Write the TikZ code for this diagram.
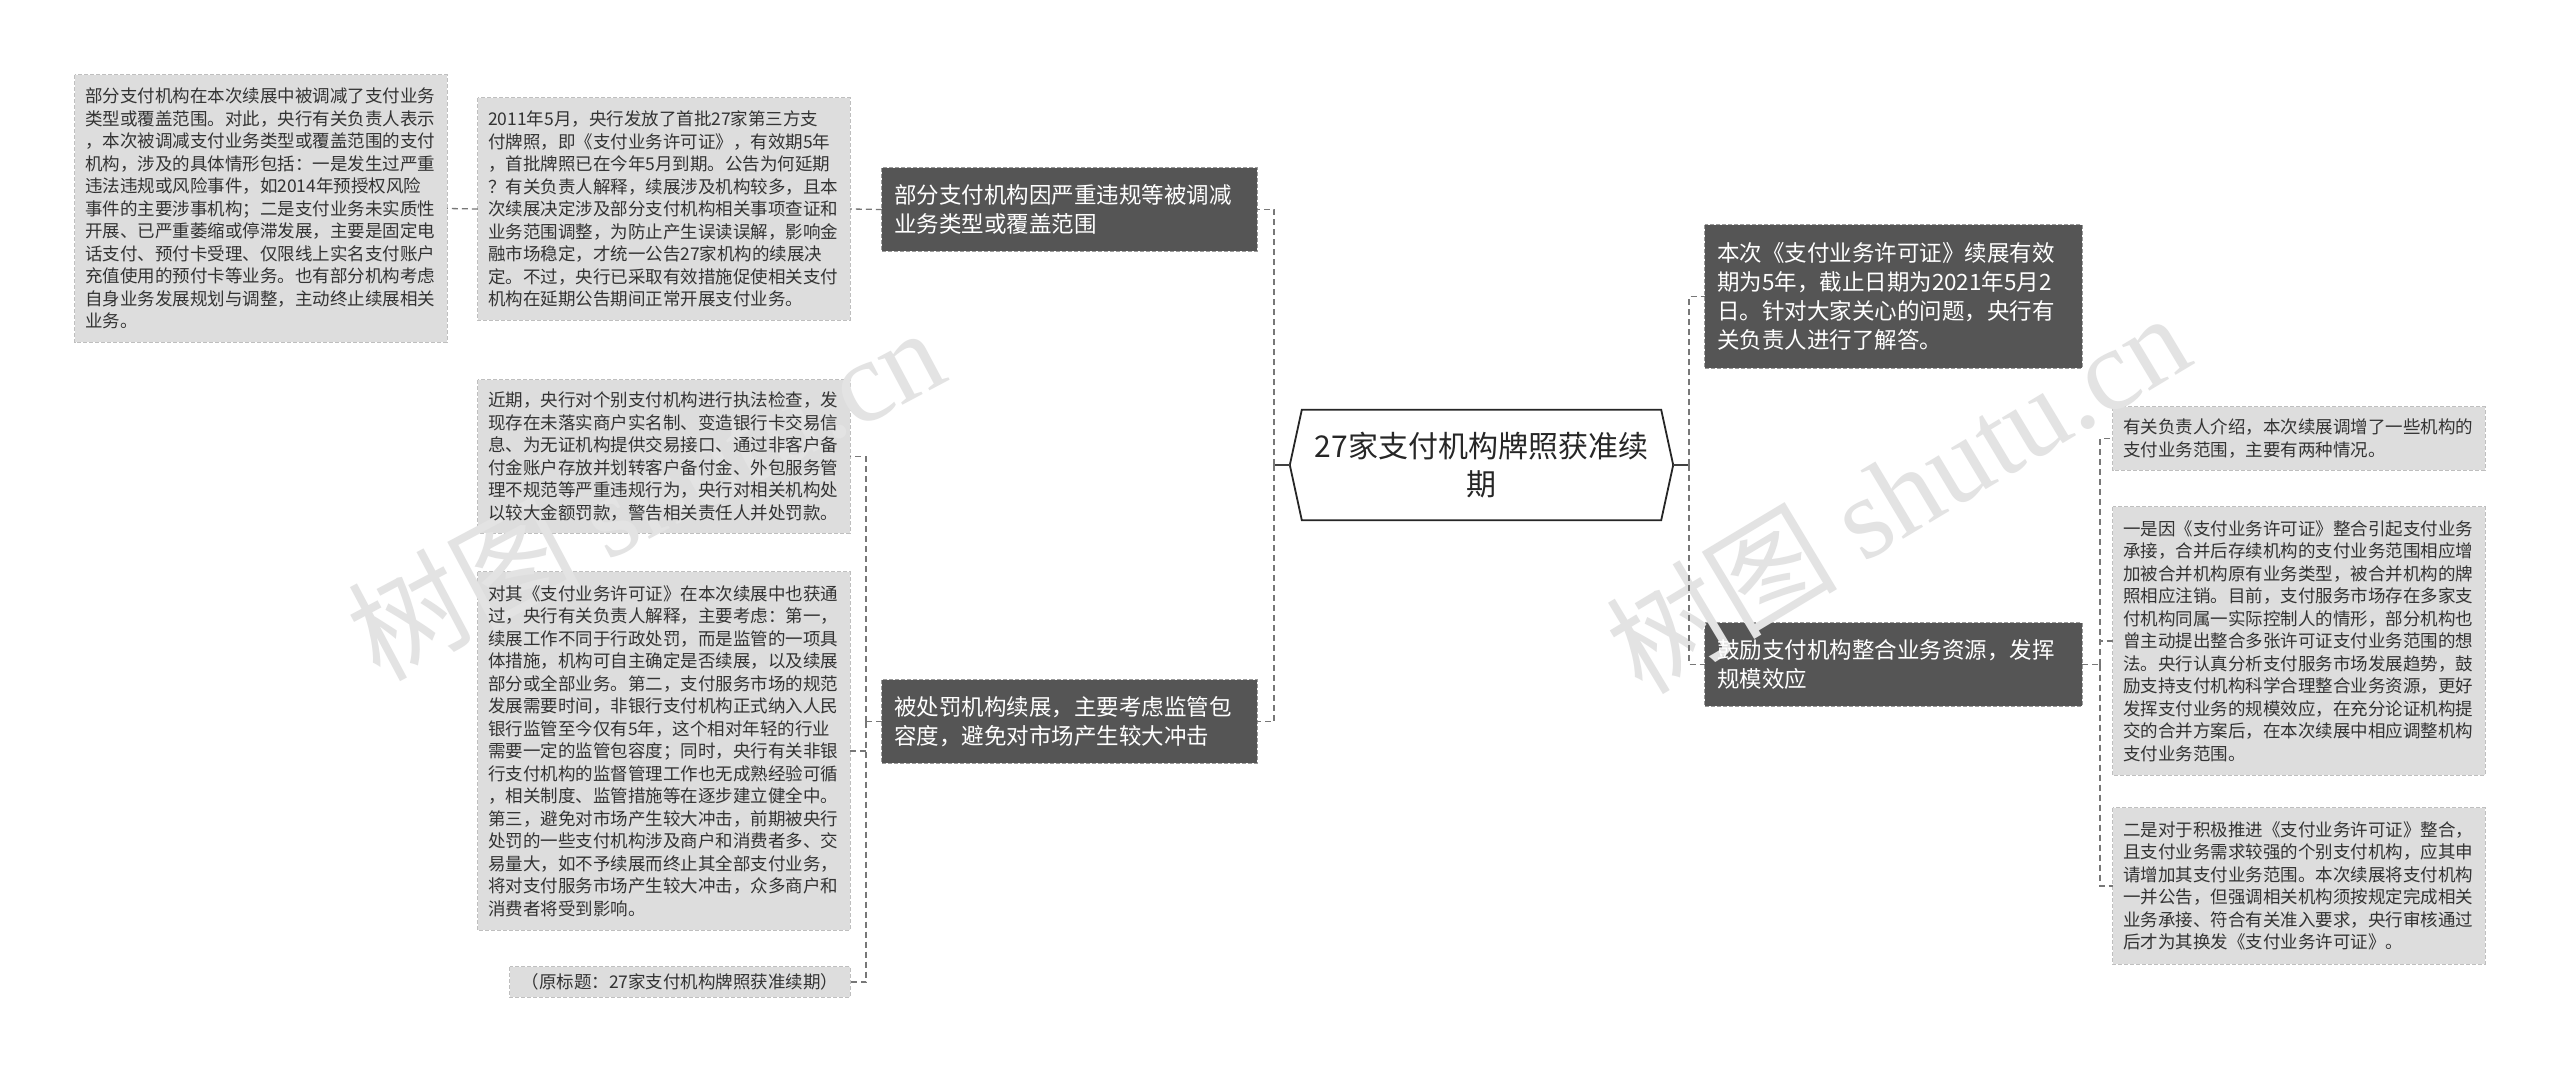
\documentclass[tikz,border=0pt]{standalone}
\usepackage{fontspec}
\setmainfont{Noto Sans CJK SC}
\newfontfamily\wmserif{Liberation Serif}
\definecolor{darkbox}{HTML}{555555}
\definecolor{lightbox}{HTML}{DDDDDD}
\definecolor{lighttext}{HTML}{333333}
\definecolor{linecol}{HTML}{777777}
\definecolor{wmcol}{HTML}{E3E3E3}
\pgfdeclarelayer{boxes}
\pgfdeclarelayer{wmlayer}
\pgfsetlayers{boxes,wmlayer,main}
\tikzset{
 lightnode/.style={text=lighttext, align=left, inner xsep=10pt, inner ysep=0pt, font=\fontsize{17.5}{22.5}\selectfont},
 darknode/.style={text=white, align=left, inner xsep=12pt, inner ysep=0pt, font=\fontsize{22.5}{29}\selectfont},
 lightfill/.style={fill=lightbox, draw=black!25, dash pattern=on 4pt off 2pt, line width=1pt},
 darkfill/.style={fill=darkbox, draw=black!40, dash pattern=on 4pt off 2pt, line width=1.2pt},
 conn/.style={draw=linecol, line width=1.3pt, dash pattern=on 6pt off 4pt},
 stub/.style={draw=black!75, line width=1.6pt},
 wmark/.style={text=wmcol, font=\fontsize{116}{116}\selectfont, inner sep=0pt},
}
\begin{document}
\begin{tikzpicture}[x=1pt, y=-1pt]
\begin{pgfonlayer}{boxes}
\fill[white] (0,0) rectangle (2560,1083);
\end{pgfonlayer}
\useasboundingbox (0,0) rectangle (2560,1083);

% watermarks
\begin{pgfonlayer}{wmlayer}
\node[wmark, rotate=28] (wm1) at (645,492) {树图 {\wmserif shutu.cn}};
\node[wmark, rotate=31] (wm2) at (1897,492) {树图 {\wmserif shutu.cn}};
\end{pgfonlayer}

% center
\node[font=\fontsize{30}{38}\selectfont, align=center, minimum width=383pt, minimum height=110pt, inner sep=0pt] (c) at (1481.5,465) {};
\draw[black!85, fill=white, line width=1.8pt] (c.west) -- ([xshift=12pt]c.north west) -- ([xshift=-12pt]c.north east) -- (c.east) -- ([xshift=-12pt]c.south east) -- ([xshift=12pt]c.south west) -- cycle;
\node[font=\fontsize{30}{38}\selectfont, align=center, text=black!85, inner sep=0pt] (ct) at (c.center) {27家支付机构牌照获准续\\期};

% left side
\node[darknode, minimum width=375pt, minimum height=83pt, text width=351pt] (b3) at (1069.5,209.5) {部分支付机构因严重违规等被调减\\业务类型或覆盖范围};
\node[darknode, minimum width=375pt, minimum height=83pt, text width=351pt] (b7) at (1069.5,721.5) {被处罚机构续展，主要考虑监管包\\容度，避免对市场产生较大冲击};

\node[lightnode, minimum width=372pt, minimum height=267pt, text width=352pt] (b1) at (261,208.5) {部分支付机构在本次续展中被调减了支付业务\\
类型或覆盖范围。对此，央行有关负责人表示\\
，本次被调减支付业务类型或覆盖范围的支付\\
机构，涉及的具体情形包括：一是发生过严重\\
违法违规或风险事件，如2014年预授权风险\\
事件的主要涉事机构；二是支付业务未实质性\\
开展、已严重萎缩或停滞发展，主要是固定电\\
话支付、预付卡受理、仅限线上实名支付账户\\
充值使用的预付卡等业务。也有部分机构考虑\\
自身业务发展规划与调整，主动终止续展相关\\
业务。};

\node[lightnode, minimum width=372pt, minimum height=222pt, text width=352pt] (b2) at (664,209) {2011年5月，央行发放了首批27家第三方支\\
付牌照，即《支付业务许可证》，有效期5年\\
，首批牌照已在今年5月到期。公告为何延期\\
？有关负责人解释，续展涉及机构较多，且本\\
次续展决定涉及部分支付机构相关事项查证和\\
业务范围调整，为防止产生误读误解，影响金\\
融市场稳定，才统一公告27家机构的续展决\\
定。不过，央行已采取有效措施促使相关支付\\
机构在延期公告期间正常开展支付业务。};

\node[lightnode, minimum width=372pt, minimum height=153pt, text width=352pt] (b4) at (664,456.5) {近期，央行对个别支付机构进行执法检查，发\\
现存在未落实商户实名制、变造银行卡交易信\\
息、为无证机构提供交易接口、通过非客户备\\
付金账户存放并划转客户备付金、外包服务管\\
理不规范等严重违规行为，央行对相关机构处\\
以较大金额罚款，警告相关责任人并处罚款。};

\node[lightnode, minimum width=372pt, minimum height=358pt, text width=352pt] (b5) at (664,751) {对其《支付业务许可证》在本次续展中也获通\\
过，央行有关负责人解释，主要考虑：第一，\\
续展工作不同于行政处罚，而是监管的一项具\\
体措施，机构可自主确定是否续展，以及续展\\
部分或全部业务。第二，支付服务市场的规范\\
发展需要时间，非银行支付机构正式纳入人民\\
银行监管至今仅有5年，这个相对年轻的行业\\
需要一定的监管包容度；同时，央行有关非银\\
行支付机构的监督管理工作也无成熟经验可循\\
，相关制度、监管措施等在逐步建立健全中。\\
第三，避免对市场产生较大冲击，前期被央行\\
处罚的一些支付机构涉及商户和消费者多、交\\
易量大，如不予续展而终止其全部支付业务，\\
将对支付服务市场产生较大冲击，众多商户和\\
消费者将受到影响。};

\node[lightnode, align=center, minimum width=340pt, minimum height=30pt, text width=320pt] (b6) at (680,982) {（原标题：27家支付机构牌照获准续期）};

% right side
\node[darknode, minimum width=377pt, minimum height=143pt, text width=353pt] (b9) at (1893.5,296.5) {本次《支付业务许可证》续展有效\\
期为5年，截止日期为2021年5月2\\
日。针对大家关心的问题，央行有\\
关负责人进行了解答。};
\node[darknode, minimum width=377pt, minimum height=83pt, text width=353pt] (b10) at (1893.5,664.5) {鼓励支付机构整合业务资源，发挥\\规模效应};

\node[lightnode, minimum width=372pt, minimum height=63pt, text width=352pt] (b11) at (2299,438.5) {有关负责人介绍，本次续展调增了一些机构的\\
支付业务范围，主要有两种情况。};

\node[lightnode, minimum width=372pt, minimum height=268pt, text width=352pt] (b12) at (2299,641) {一是因《支付业务许可证》整合引起支付业务\\
承接，合并后存续机构的支付业务范围相应增\\
加被合并机构原有业务类型，被合并机构的牌\\
照相应注销。目前，支付服务市场存在多家支\\
付机构同属一实际控制人的情形，部分机构也\\
曾主动提出整合多张许可证支付业务范围的想\\
法。央行认真分析支付服务市场发展趋势，鼓\\
励支持支付机构科学合理整合业务资源，更好\\
发挥支付业务的规模效应，在充分论证机构提\\
交的合并方案后，在本次续展中相应调整机构\\
支付业务范围。};

\node[lightnode, minimum width=372pt, minimum height=156pt, text width=352pt] (b13) at (2299,886) {二是对于积极推进《支付业务许可证》整合，\\
且支付业务需求较强的个别支付机构，应其申\\
请增加其支付业务范围。本次续展将支付机构\\
一并公告，但强调相关机构须按规定完成相关\\
业务承接、符合有关准入要求，央行审核通过\\
后才为其换发《支付业务许可证》。};

% box backgrounds (under the watermark, which lies under the texts)
\begin{pgfonlayer}{boxes}
\foreach \n in {b1,b2,b4,b5,b6,b11,b12,b13}
  \path[lightfill] (\n.north west) rectangle (\n.south east);
\foreach \n in {b3,b7,b9,b10}
  \path[darkfill] (\n.north west) rectangle (\n.south east);
\end{pgfonlayer}

% connectors
\coordinate (busL) at (1274,465);
\coordinate (busR) at (1689,465);
\coordinate (busL2) at (866,721.5);
\coordinate (busR2) at (2100,664.5);

\draw[stub] (c.west) -- (busL);
\draw[conn] (busL) |- (b3.east);
\draw[conn] (busL) |- (b7.east);
\draw[stub] (c.east) -- (busR);
\draw[conn] (busR) |- (b9.west);
\draw[conn] (busR) |- (b10.west);

\draw[conn] (b3.west) -- (b2.east);
\draw[conn] (b2.west) -- (b1.east);

\draw[conn] (b7.west) -- (busL2);
\draw[conn] (busL2) |- (b4.east);
\draw[conn] (busL2) |- (b5.east);
\draw[conn] (busL2) |- (b6.east);

\draw[conn] (b10.east) -- (busR2);
\draw[conn] (busR2) |- (b11.west);
\draw[conn] (busR2) |- (b12.west);
\draw[conn] (busR2) |- (b13.west);
\end{tikzpicture}
\end{document}
